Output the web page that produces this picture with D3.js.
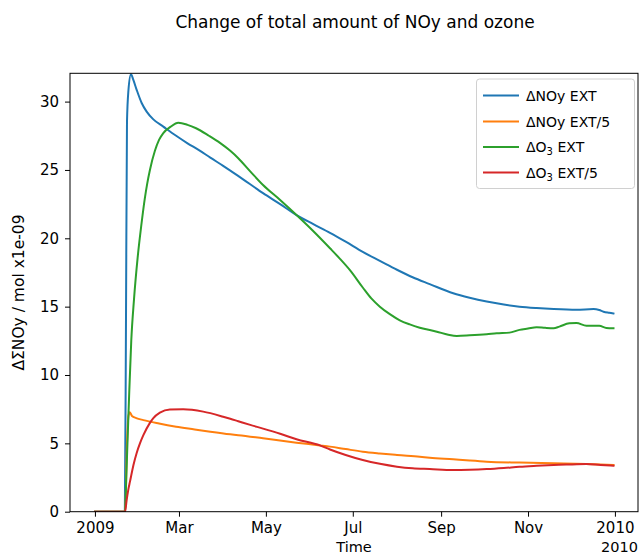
<!DOCTYPE html>
<html>
<head>
<meta charset="utf-8">
<script src="https://cdn.jsdelivr.net/npm/d3@7"></script>
<style>
  html, body { margin: 0; padding: 0; background: #fff; }
  svg { display: block; }
  text { font-family: "DejaVu Sans", sans-serif; fill: #000; }
</style>
</head>
<body>
<svg id="chart" width="641" height="556"></svg>
<script>
// ---- data (days since 2009-01-01, value in mol x1e-09) ----
const noyExtDays = [0, 21, 21.8, 22.5, 23.5, 25.3, 26.9, 29.3, 32.8, 36.3, 41, 48, 57, 65, 73, 81, 90, 100, 109, 118, 130, 141.5, 153, 165, 176, 188, 200, 212, 223, 235, 251.5, 263, 275, 287, 298, 310, 322, 338, 350, 354, 357, 361, 364];
const noyExtVals = [0, 0, 14, 28.5, 30.8, 32.0, 31.6, 30.86, 29.9, 29.27, 28.7, 28.17, 27.5, 26.95, 26.45, 25.9, 25.3, 24.6, 23.95, 23.3, 22.5, 21.7, 21.05, 20.4, 19.75, 19.0, 18.35, 17.7, 17.15, 16.65, 15.98, 15.65, 15.37, 15.15, 15.0, 14.9, 14.83, 14.78, 14.82, 14.75, 14.63, 14.55, 14.5];

const noyExt5Days = [0, 21.2, 22.5, 23.5, 24.5, 26, 29, 34, 45, 57, 70, 81, 95, 100.6, 118, 141.5, 158, 165, 176, 188, 200, 212, 228, 235, 251.5, 263, 275, 298, 322, 345, 364];
const noyExt5Vals = [0, 0, 5, 7.0, 7.28, 7.0, 6.85, 6.7, 6.45, 6.22, 6.02, 5.85, 5.66, 5.6, 5.37, 5.05, 4.85, 4.76, 4.58, 4.39, 4.26, 4.15, 4.02, 3.95, 3.83, 3.74, 3.66, 3.59, 3.54, 3.49, 3.42];

const o3ExtDays = [0, 21.2, 22, 23, 24, 25.5, 27.4, 30, 32.5, 35, 36.7, 38.6, 42.1, 45, 48, 53, 58.5, 65, 71, 80, 88, 95, 100.6, 109, 118, 130, 141.5, 153, 165, 172, 179, 188, 194, 200, 207, 214, 221, 228, 240, 248, 254, 263, 275, 282, 291, 298, 304, 310, 316, 322, 326, 333, 338, 345, 354, 359, 364];
const o3ExtVals = [0, 0, 2.5, 5.5, 8.5, 12.5, 15.5, 18.6, 20.9, 22.9, 24.0, 25.0, 26.4, 27.2, 27.7, 28.15, 28.45, 28.3, 28.05, 27.5, 26.96, 26.4, 25.86, 24.9, 23.9, 22.8, 21.7, 20.55, 19.27, 18.5, 17.67, 16.4, 15.6, 15.0, 14.45, 14.0, 13.7, 13.46, 13.17, 12.95, 12.86, 12.9, 12.98, 13.05, 13.1, 13.3, 13.4, 13.5, 13.45, 13.42, 13.54, 13.78, 13.8, 13.6, 13.6, 13.44, 13.42];

const o3Ext5Days = [0, 21.2, 22.2, 23.4, 24.6, 27, 29.3, 31.6, 34, 38.6, 41, 45.6, 52.6, 62, 76, 90, 95, 100.6, 109, 118, 130, 141.5, 158, 165, 176, 188, 200, 212, 223, 235, 251.5, 263, 275, 287, 298, 310, 322, 335, 345, 355, 364];
const o3Ext5Vals = [0, 0, 0.8, 1.6, 2.2, 3.4, 4.3, 5.0, 5.6, 6.5, 6.85, 7.25, 7.48, 7.49, 7.32, 6.95, 6.8, 6.62, 6.35, 6.08, 5.7, 5.3, 4.85, 4.55, 4.15, 3.78, 3.5, 3.29, 3.17, 3.12, 3.05, 3.07, 3.12, 3.2, 3.29, 3.36, 3.42, 3.46, 3.49, 3.42, 3.37];

const seriesNames = ["ΔNOy EXT", "ΔNOy EXT/5", "ΔO3 EXT", "ΔO3 EXT/5"];
const seriesColors = ["#1f77b4", "#ff7f0e", "#2ca02c", "#d62728"];

const xTickDates = ["2009-01-01", "2009-03-01", "2009-05-01", "2009-07-01", "2009-09-01", "2009-11-01", "2010-01-01"];
const xTickLabels = ["2009", "Mar", "May", "Jul", "Sep", "Nov", "2010"];
const yTicks = [0, 5, 10, 15, 20, 25, 30];

// ---- layout ----
const svg = d3.select("#chart");
const L = 70, R = 638, T = 73.3, B = 511.7;
const day0 = new Date(2009, 0, 1);
const dayToDate = d => new Date(day0.getTime() + d * 86400000);

const x = d3.scaleTime()
  .domain([dayToDate(-17.5), dayToDate(381.2)])
  .range([L, R]);
const y = d3.scaleLinear().domain([0, 32.07]).range([B, T]);

const series = [
  {days: noyExtDays, vals: noyExtVals},
  {days: noyExt5Days, vals: noyExt5Vals},
  {days: o3ExtDays, vals: o3ExtVals},
  {days: o3Ext5Days, vals: o3Ext5Vals}
];

// clip
svg.append("defs").append("clipPath").attr("id", "clip")
  .append("rect").attr("x", L).attr("y", T).attr("width", R - L).attr("height", B - T);

const line = d3.line()
  .x(d => x(dayToDate(d[0])))
  .y(d => y(d[1]))
  .curve(d3.curveMonotoneX);

const g = svg.append("g").attr("clip-path", "url(#clip)");
series.forEach((s, i) => {
  const pts = s.days.map((d, j) => [d, s.vals[j]]);
  g.append("path")
    .datum(pts)
    .attr("d", line)
    .attr("fill", "none")
    .attr("stroke", seriesColors[i])
    .attr("stroke-width", 2)
    .attr("stroke-linejoin", "round")
    .attr("stroke-linecap", "square");
});

// axes
const xAxis = d3.axisBottom(x)
  .tickValues(xTickDates.map(s => { const p = s.split("-"); return new Date(+p[0], +p[1] - 1, +p[2]); }))
  .tickFormat((d, i) => xTickLabels[i])
  .tickSizeOuter(0).tickSize(5).tickPadding(6);
const yAxis = d3.axisLeft(y)
  .tickValues(yTicks)
  .tickFormat(d3.format("d"))
  .tickSizeOuter(0).tickSize(5).tickPadding(6);

const gx = svg.append("g").attr("transform", `translate(0,${B})`).call(xAxis);
const gy = svg.append("g").attr("transform", `translate(${L},0)`).call(yAxis);
[gx, gy].forEach(a => {
  a.select(".domain").remove();
  a.selectAll(".tick line").attr("stroke", "#000").attr("stroke-width", 1);
  a.selectAll(".tick text").style("font-family", "DejaVu Sans, sans-serif").style("font-size", "15px").attr("fill", "#000");
});

// spines
svg.append("rect")
  .attr("x", L).attr("y", T).attr("width", R - L).attr("height", B - T)
  .attr("fill", "none").attr("stroke", "#000").attr("stroke-width", 1);

// labels
svg.append("text").attr("x", 355).attr("y", 28).attr("text-anchor", "middle")
  .style("font-size", "17px").text("Change of total amount of NOy and ozone");
svg.append("text").attr("x", (L + R) / 2).attr("y", 552).attr("text-anchor", "middle")
  .style("font-size", "14.5px").text("Time");
svg.append("text").attr("x", R).attr("y", 552).attr("text-anchor", "end")
  .style("font-size", "14.5px").text("2010");
svg.append("text")
  .attr("transform", `translate(24,${(T + B) / 2}) rotate(-90)`)
  .attr("text-anchor", "middle")
  .style("font-size", "15.5px").text("ΔΣNOy / mol x1e-09");

// legend
const lg = svg.append("g");
lg.append("rect").attr("x", 476.5).attr("y", 79).attr("width", 158).attr("height", 109.5)
  .attr("rx", 3).attr("fill", "#fff").attr("fill-opacity", 0.8)
  .attr("stroke", "#d0d0d0").attr("stroke-width", 1);
const rowY = [95.5, 121.5, 147, 172.5];
seriesNames.forEach((name, i) => {
  lg.append("line").attr("x1", 483).attr("x2", 519).attr("y1", rowY[i]).attr("y2", rowY[i])
    .attr("stroke", seriesColors[i]).attr("stroke-width", 2);
  const t = lg.append("text").attr("x", 526).attr("y", rowY[i] + 5).style("font-size", "14px");
  if (name.indexOf("O3") >= 0) {
    const parts = name.split("O3");
    t.append("tspan").text(parts[0] + "O");
    t.append("tspan").attr("dy", 3).style("font-size", "10px").text("3");
    t.append("tspan").attr("dy", -3).text(parts[1]);
  } else {
    t.text(name);
  }
});
</script>
</body>
</html>
